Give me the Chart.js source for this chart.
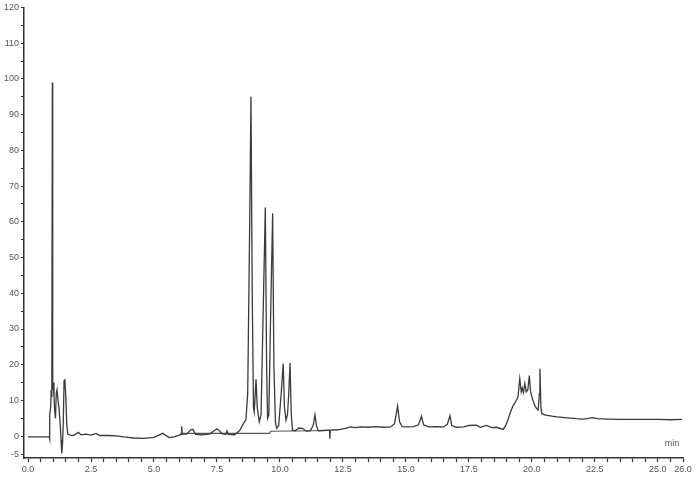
<!DOCTYPE html>
<html>
<head>
<meta charset="utf-8">
<script src="https://cdn.jsdelivr.net/npm/chart.js@4.4.0/dist/chart.umd.min.js"></script>
<style>
  html, body { margin: 0; padding: 0; background: #fff; }
  #wrap { width: 700px; height: 483px; }
</style>
</head>
<body>
<div id="wrap"><canvas id="chrom" width="700" height="483"></canvas></div>
<script>
// retention time (min) and detector signal
var rt = [0.0, 0.84, 0.85, 0.87, 0.9, 0.92, 0.94, 0.95, 0.965, 0.98, 1.0, 1.03, 1.06, 1.09, 1.12, 1.15, 1.19, 1.23, 1.28, 1.31, 1.34, 1.37, 1.40, 1.43, 1.46, 1.5, 1.54, 1.58, 1.66, 1.8,
  2.0, 2.1, 2.3, 2.5, 2.7, 2.85, 3.2, 3.5, 3.8, 4.2, 4.6, 5.0, 5.2, 5.35, 5.45, 5.6, 5.8, 6.0, 6.08, 6.1, 6.12, 6.3, 6.45, 6.55, 6.65, 6.9, 7.2, 7.4, 7.5, 7.6, 7.7, 7.85, 7.9, 7.95,
  8.2, 8.4, 8.55, 8.65, 8.72, 8.8, 8.85, 8.9, 8.95, 8.98, 9.05, 9.1, 9.18, 9.25, 9.32, 9.42, 9.47, 9.51, 9.56, 9.62, 9.71, 9.76, 9.82, 9.87, 9.95,
  10.05, 10.13, 10.18, 10.24, 10.3, 10.35, 10.40, 10.45, 10.5, 10.6, 10.75, 10.9, 11.05, 11.2, 11.32, 11.39, 11.45, 11.52, 11.7, 11.9, 11.97, 11.98, 12.0,
  12.3, 12.6, 12.8, 13.0, 13.2, 13.5, 13.8, 14.1, 14.4, 14.55, 14.67, 14.75, 14.85, 15.1, 15.3, 15.5, 15.62, 15.7, 15.9, 16.2, 16.5, 16.65, 16.75, 16.82,
  17.0, 17.3, 17.5, 17.8, 17.95, 18.2, 18.4, 18.6, 18.86, 18.95, 19.05, 19.13, 19.25, 19.33, 19.45, 19.52, 19.58, 19.62, 19.67, 19.72, 19.78, 19.84, 19.9, 19.95,
  20.03, 20.12, 20.19, 20.25, 20.3, 20.32, 20.36, 20.4, 20.55, 20.8, 21.0, 21.3, 21.77, 22.0, 22.2, 22.4, 22.6, 23.0, 23.5, 24.0, 24.5, 25.0, 25.5, 25.96];
var signal = [-0.2, -0.2, -0.8, 6, 8.2, 13, 11, 15, 99, 13, 15, 11, 7, 5, 12, 13, 10, 8, 3, -1, -4.8, -2, 4, 15.5, 16, 11, 3, 0.6, 0.3, 0.2,
  1.1, 0.4, 0.6, 0.3, 0.8, 0.2, 0.2, 0.1, -0.2, -0.5, -0.6, -0.3, 0.3, 0.8, 0.3, -0.4, -0.2, 0.3, 0.5, 2.8, 0.6, 0.6, 1.8, 1.9, 0.5, 0.4, 0.6, 1.6, 2.1, 1.5, 0.7, 0.5, 1.5, 0.5,
  0.4, 1.6, 3.5, 4.6, 12, 60, 95, 40, 8, 6.8, 15.9, 8, 4, 6, 30, 64, 20, 5, 6, 30, 62.4, 20, 4, 2.2, 3,
  12, 20.3, 8, 4.5, 6, 12, 20.5, 6, 1.7, 1.5, 2.3, 2.2, 1.4, 1.5, 3, 6, 3, 1.5, 1.6, 1.7, 1.7, -0.7, 1.7,
  1.8, 2.2, 2.6, 2.4, 2.6, 2.5, 2.7, 2.5, 2.6, 3.5, 8.4, 4, 2.7, 2.6, 2.7, 3.2, 5.6, 3.2, 2.6, 2.7, 2.6, 3.4, 5.7, 3,
  2.5, 2.6, 3.0, 3.1, 2.5, 3, 2.4, 2.5, 1.9, 2.8, 4.5, 6.3, 8.5, 9.3, 11, 16.1, 12.4, 13.5, 12.2, 14.7, 12.4, 13, 17.0, 12.4,
  10.3, 8.5, 7.7, 7.3, 12, 18.9, 8, 6.3, 5.9, 5.6, 5.4, 5.2, 4.9, 4.8, 4.9, 5.2, 4.9, 4.8, 4.7, 4.7, 4.7, 4.7, 4.6, 4.7];

// integration baseline drawn under the main peak group
var baseRt = [6.05, 9.6, 9.62, 12.0];
var baseSignal = [0.8, 0.8, 1.4, 1.6];

var yTicks = [-5, 0, 5, 10, 15, 20, 25, 30, 35, 40, 45, 50, 55, 60, 65, 70, 75, 80, 85, 90, 95, 100, 105, 110, 115, 120];
var xTicks = [];
for (var k = 0; k <= 52; k++) xTicks.push(k / 2);
var xLabelled = [0, 2.5, 5, 7.5, 10, 12.5, 15, 17.5, 20, 22.5, 25, 26];

var trace = rt.map(function (t, i) { return { x: t, y: signal[i] }; });
var base = baseRt.map(function (t, i) { return { x: t, y: baseSignal[i] }; });

var unitLabel = {
  id: "unitLabel",
  afterDraw: function (chart) {
    var ctx = chart.ctx;
    var a = chart.chartArea;
    ctx.save();
    ctx.font = "9px 'Liberation Sans', Arial, sans-serif";
    ctx.fillStyle = "#555";
    ctx.textAlign = "center";
    ctx.textBaseline = "middle";
    ctx.fillText("min", a.right - 11, a.bottom - 14);
    ctx.restore();
  }
};

new Chart(document.getElementById("chrom"), {
  type: "line",
  data: {
    datasets: [
      { data: trace, borderColor: "#3a3a3a", borderWidth: 1.3, pointRadius: 0, tension: 0, fill: false },
      { data: base, borderColor: "#555", borderWidth: 1.1, pointRadius: 0, tension: 0, fill: false }
    ]
  },
  options: {
    responsive: false,
    animation: false,
    layout: { padding: { top: 6, right: 17, left: 0, bottom: 0 } },
    plugins: { legend: { display: false }, tooltip: { enabled: false } },
    scales: {
      x: {
        type: "linear",
        min: -0.16,
        max: 26,
        afterBuildTicks: function (s) { s.ticks = xTicks.map(function (v) { return { value: v }; }); },
        afterFit: function (s) { s.height = 25; },
        ticks: {
          autoSkip: false,
          maxRotation: 0,
          padding: 2,
          color: "#555",
          font: { family: "'Liberation Sans', Arial, sans-serif", size: 9 },
          callback: function (v) { return xLabelled.indexOf(v) >= 0 ? v.toFixed(1) : ""; }
        },
        grid: { drawOnChartArea: false, drawTicks: true, tickLength: 4, tickColor: "#333", tickWidth: 1.2 },
        border: { display: true, color: "#333", width: 1.5 }
      },
      y: {
        min: -6.1,
        max: 120,
        afterBuildTicks: function (s) { s.ticks = yTicks.map(function (v) { return { value: v }; }); },
        afterFit: function (s) { s.width = 24; },
        ticks: {
          autoSkip: false,
          padding: 2,
          color: "#555",
          font: { family: "'Liberation Sans', Arial, sans-serif", size: 9 },
          callback: function (v) { return (v % 10 === 0 || v === -5) ? String(v) : ""; }
        },
        grid: { drawOnChartArea: false, drawTicks: true, tickLength: 3, tickColor: "#333", tickWidth: 1.2 },
        border: { display: true, color: "#333", width: 1.5 }
      }
    }
  },
  plugins: [unitLabel]
});
</script>
</body>
</html>
